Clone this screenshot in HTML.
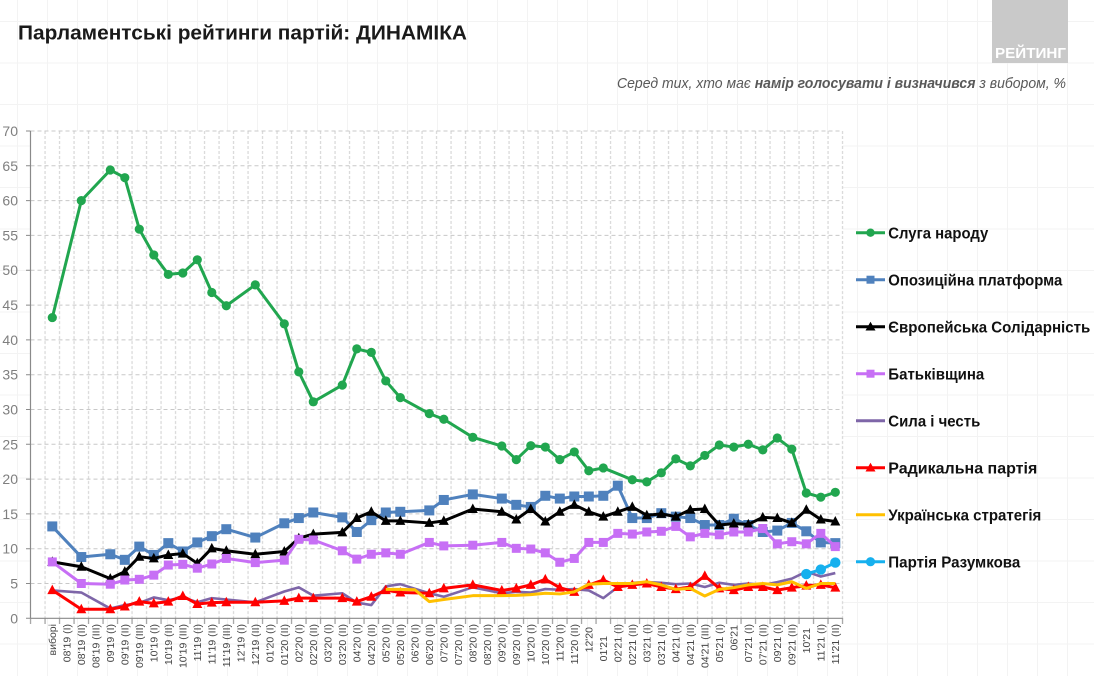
<!DOCTYPE html>
<html><head><meta charset="utf-8">
<style>
html,body{margin:0;padding:0;background:#fff;}
svg{display:block;font-family:"Liberation Sans",Arial,sans-serif;}
</style></head><body>
<svg id="c" width="1094" height="676" viewBox="0 0 1094 676" xmlns="http://www.w3.org/2000/svg">
<defs>
<pattern id="bg" patternUnits="userSpaceOnUse" x="17" y="21" width="30" height="41.5">
 <path d="M0 0.5H30M0.5 0V41.5" stroke="#f3f3f3" stroke-width="1" fill="none"/>
</pattern>
<pattern id="vg" patternUnits="userSpaceOnUse" x="37.8" y="131" width="14.5" height="487.3">
 <line x1="7.25" y1="0" x2="7.25" y2="487.3" stroke="#cfcfcf" stroke-width="1" stroke-dasharray="3,2"/>
</pattern>
<pattern id="xt" patternUnits="userSpaceOnUse" x="23.3" y="618" width="14.5" height="6">
 <line x1="7.25" y1="0" x2="7.25" y2="6" stroke="#8a8a8a" stroke-width="1"/>
</pattern>
</defs>

<rect x="0" y="0" width="1094" height="676" fill="#fff"/>
<rect x="0" y="0" width="1094" height="676" fill="url(#bg)"/>

<!-- logo -->
<rect x="992" y="0" width="76" height="63" fill="#c9c9c9"/>
<text x="995" y="58" font-size="15" font-weight="bold" fill="#fff" textLength="71" lengthAdjust="spacingAndGlyphs">РЕЙТИНГ</text>

<!-- title -->
<text x="18" y="39.3" font-size="20" font-weight="bold" fill="#1a1a1a" textLength="449" lengthAdjust="spacingAndGlyphs">Парламентські рейтинги партій: ДИНАМІКА</text>

<!-- subtitle -->
<text x="617" y="88" font-size="14.5" font-style="italic" fill="#595959" textLength="449" lengthAdjust="spacingAndGlyphs">Серед тих, хто має <tspan font-weight="bold">намір голосувати і визначився</tspan> з вибором, %</text>

<!-- plot area background white -->
<rect x="30.5" y="131" width="812" height="487.3" fill="#fff"/>

<!-- vertical dashed gridlines -->
<rect x="38" y="131" width="811" height="487.3" fill="url(#vg)"/>

<!-- horizontal dashed gridlines -->
<path d="M30.5 583.5H842.5M30.5 548.7H842.5M30.5 513.9H842.5M30.5 479.1H842.5M30.5 444.3H842.5M30.5 409.5H842.5M30.5 374.7H842.5M30.5 339.9H842.5M30.5 305.1H842.5M30.5 270.2H842.5M30.5 235.4H842.5M30.5 200.6H842.5M30.5 165.8H842.5M30.5 131H842.5" stroke="#c8c8c8" stroke-width="1" stroke-dasharray="4,3" fill="none"/>

<!-- axes -->
<line x1="30.5" y1="131" x2="30.5" y2="618.3" stroke="#8a8a8a" stroke-width="1.2"/>
<line x1="30.5" y1="618.3" x2="842.6" y2="618.3" stroke="#8a8a8a" stroke-width="1.2"/>
<path d="M26 618.3H30.5M26 583.5H30.5M26 548.7H30.5M26 513.9H30.5M26 479.1H30.5M26 444.3H30.5M26 409.5H30.5M26 374.7H30.5M26 339.9H30.5M26 305.1H30.5M26 270.2H30.5M26 235.4H30.5M26 200.6H30.5M26 165.8H30.5M26 131H30.5" stroke="#8a8a8a" stroke-width="1" fill="none"/>
<rect x="26" y="618" width="820" height="6" fill="url(#xt)"/>

<!-- y labels -->
<g font-size="14" fill="#7f7f7f" text-anchor="end">
<text x="18" y="623.3">0</text>
<text x="18" y="588.5">5</text>
<text x="18" y="553.7">10</text>
<text x="18" y="518.9">15</text>
<text x="18" y="484.1">20</text>
<text x="18" y="449.3">25</text>
<text x="18" y="414.5">30</text>
<text x="18" y="379.7">35</text>
<text x="18" y="344.9">40</text>
<text x="18" y="310.1">45</text>
<text x="18" y="275.2">50</text>
<text x="18" y="240.4">55</text>
<text x="18" y="205.6">60</text>
<text x="18" y="170.8">65</text>
<text x="18" y="136">70</text>
</g>

<!-- x labels -->
<g font-size="10.5" fill="#444" text-anchor="end">
<text transform="translate(56.1,624) rotate(-90)">виборі</text>
<text transform="translate(70.6,624) rotate(-90)">08'19 (I)</text>
<text transform="translate(85.1,624) rotate(-90)">08'19 (II)</text>
<text transform="translate(99.6,624) rotate(-90)">08'19 (III)</text>
<text transform="translate(114.1,624) rotate(-90)">09'19 (I)</text>
<text transform="translate(128.6,624) rotate(-90)">09'19 (II)</text>
<text transform="translate(143.1,624) rotate(-90)">09'19 (III)</text>
<text transform="translate(157.6,624) rotate(-90)">10'19 (I)</text>
<text transform="translate(172.1,624) rotate(-90)">10'19 (II)</text>
<text transform="translate(186.6,624) rotate(-90)">10'19 (III)</text>
<text transform="translate(201.1,624) rotate(-90)">11'19 (I)</text>
<text transform="translate(215.6,624) rotate(-90)">11'19 (II)</text>
<text transform="translate(230.1,624) rotate(-90)">11'19 (III)</text>
<text transform="translate(244.6,624) rotate(-90)">12'19 (I)</text>
<text transform="translate(259.1,624) rotate(-90)">12'19 (II)</text>
<text transform="translate(273.6,624) rotate(-90)">01'20 (I)</text>
<text transform="translate(288.1,624) rotate(-90)">01'20 (II)</text>
<text transform="translate(302.6,624) rotate(-90)">02'20 (I)</text>
<text transform="translate(317.1,624) rotate(-90)">02'20 (II)</text>
<text transform="translate(331.6,624) rotate(-90)">03'20 (I)</text>
<text transform="translate(346.1,624) rotate(-90)">03'20 (II)</text>
<text transform="translate(360.6,624) rotate(-90)">04'20 (I)</text>
<text transform="translate(375.1,624) rotate(-90)">04'20 (II)</text>
<text transform="translate(389.6,624) rotate(-90)">05'20 (I)</text>
<text transform="translate(404.1,624) rotate(-90)">05'20 (II)</text>
<text transform="translate(418.6,624) rotate(-90)">06'20 (I)</text>
<text transform="translate(433.1,624) rotate(-90)">06'20 (II)</text>
<text transform="translate(447.6,624) rotate(-90)">07'20 (I)</text>
<text transform="translate(462.1,624) rotate(-90)">07'20 (II)</text>
<text transform="translate(476.6,624) rotate(-90)">08'20 (I)</text>
<text transform="translate(491.1,624) rotate(-90)">08'20 (II)</text>
<text transform="translate(505.6,624) rotate(-90)">09'20 (I)</text>
<text transform="translate(520.1,624) rotate(-90)">09'20 (II)</text>
<text transform="translate(534.6,624) rotate(-90)">10'20 (I)</text>
<text transform="translate(549.1,624) rotate(-90)">10'20 (II)</text>
<text transform="translate(563.6,624) rotate(-90)">11'20 (I)</text>
<text transform="translate(578.1,624) rotate(-90)">11'20 (II)</text>
<text transform="translate(592.6,627) rotate(-90)">12'20</text>
<text transform="translate(607.1,636) rotate(-90)">01'21</text>
<text transform="translate(621.6,624) rotate(-90)">02'21 (I)</text>
<text transform="translate(636.1,624) rotate(-90)">02'21 (II)</text>
<text transform="translate(650.6,624) rotate(-90)">03'21 (I)</text>
<text transform="translate(665.1,624) rotate(-90)">03'21 (II)</text>
<text transform="translate(679.6,624) rotate(-90)">04'21 (I)</text>
<text transform="translate(694.1,624) rotate(-90)">04'21 (II)</text>
<text transform="translate(708.6,624) rotate(-90)">04'21 (III)</text>
<text transform="translate(723.1,624) rotate(-90)">05'21 (I)</text>
<text transform="translate(737.6,625) rotate(-90)">06'21</text>
<text transform="translate(752.1,624) rotate(-90)">07'21 (I)</text>
<text transform="translate(766.6,624) rotate(-90)">07'21 (II)</text>
<text transform="translate(781.1,624) rotate(-90)">09'21 (I)</text>
<text transform="translate(795.6,624) rotate(-90)">09'21 (II)</text>
<text transform="translate(810.1,628) rotate(-90)">10'21</text>
<text transform="translate(824.6,624) rotate(-90)">11'21 (I)</text>
<text transform="translate(839.1,624) rotate(-90)">11'21 (II)</text>
</g>

<!-- series -->
<g transform="matrix(14.5 0 0 -6.961 52.3 618.3)"><polyline id="lg" fill="none" stroke="#21a64f" stroke-width="3" vector-effect="non-scaling-stroke" stroke-linejoin="round" points="0,43.2 2,60 4,64.4 5,63.3 6,55.9 7,52.2 8,49.4 9,49.6 10,51.5 11,46.8 12,44.9 14,47.9 16,42.3 17,35.4 18,31.1 20,33.5 21,38.7 22,38.2 23,34.1 24,31.7 26,29.4 27,28.6 29,26 31,24.75 32,22.8 33,24.8 34,24.6 35,22.8 36,23.9 37,21.2 38,21.6 40,19.9 41,19.6 42,20.9 43,22.9 44,21.9 45,23.4 46,24.9 47,24.6 48,25 49,24.2 50,25.9 51,24.3 52,18 53,17.4 54,18.1"/></g>
<g id="mg"></g>

<g transform="matrix(14.5 0 0 -6.961 52.3 618.3)"><polyline id="lb" fill="none" stroke="#4f81bd" stroke-width="3" vector-effect="non-scaling-stroke" stroke-linejoin="round" points="0,13.2 2,8.8 4,9.2 5,8.4 6,10.3 7,9.1 8,10.8 9,9.6 10,10.9 11,11.8 12,12.8 14,11.6 16,13.65 17,14.4 18,15.2 20,14.5 21,12.4 22,14.1 23,15.2 24,15.3 26,15.5 27,17 29,17.8 31,17.2 32,16.3 33,16 34,17.6 35,17.2 36,17.5 37,17.5 38,17.6 39,19.05 40,14.4 41,14.4 42,15.1 43,14.6 44,14.4 45,13.4 46,13.4 47,14.3 48,13.4 49,12.4 50,12.6 51,13.7 52,12.5 53,10.9 54,10.8"/></g>
<g id="mb"></g>

<g transform="matrix(14.5 0 0 -6.961 52.3 618.3)"><polyline id="lk" fill="none" stroke="#000" stroke-width="3" vector-effect="non-scaling-stroke" stroke-linejoin="round" points="0,8.1 2,7.4 4,5.7 5,6.7 6,8.85 7,8.6 8,9.1 9,9.3 10,7.9 11,10.05 12,9.7 14,9.2 16,9.6 17,11.5 18,12.1 20,12.35 21,14.4 22,15.3 23,14 24,14 26,13.7 27,14 29,15.7 31,15.3 32,14.2 33,15.7 34,13.9 35,15.3 36,16.3 37,15.3 38,14.6 39,15.3 40,16 41,14.8 42,15 43,14.6 44,15.6 45,15.7 46,13.4 47,13.6 48,13.5 49,14.5 50,14.4 51,13.7 52,15.6 53,14.2 54,13.9"/></g>
<g id="mk"></g>

<g transform="matrix(14.5 0 0 -6.961 52.3 618.3)"><polyline id="lp" fill="none" stroke="#c76ff5" stroke-width="3" vector-effect="non-scaling-stroke" stroke-linejoin="round" points="0,8.1 2,5 4,4.9 5,5.5 6,5.6 7,6.2 8,7.65 9,7.75 10,7.2 11,7.8 12,8.6 14,8 16,8.35 17,11.35 18,11.25 20,9.7 21,8.5 22,9.2 23,9.4 24,9.2 26,10.9 27,10.4 29,10.5 31,10.9 32,10.05 33,9.95 34,9.4 35,8.05 36,8.6 37,10.9 38,10.9 39,12.2 40,12.1 41,12.4 42,12.5 43,13.2 44,11.7 45,12.2 46,12 47,12.4 48,12.4 49,12.9 50,10.7 51,11 52,10.7 53,12.2 54,10.3"/></g>
<g id="mp"></g>

<g transform="matrix(14.5 0 0 -6.961 52.3 618.3)"><polyline id="ls" fill="none" stroke="#7e66a8" stroke-width="2.6" vector-effect="non-scaling-stroke" stroke-linejoin="round" points="0,4 2,3.7 4,1.4 5,1.9 6,2.2 7,3 8,2.6 9,3 10,2.3 11,2.9 12,2.7 14,2.3 16,3.85 17,4.45 18,3.25 20,3.6 21,2.25 22,1.9 23,4.6 24,4.9 26,3.6 27,3.1 29,4.45 31,3.6 32,3.8 33,3.7 34,4.2 35,4.1 36,4.2 37,4 38,2.9 39,4.5 40,5.1 41,5.2 42,5.1 43,4.9 44,5 45,4.5 46,5.1 47,4.8 48,5 49,4.8 50,5.2 51,5.7 52,6.7 53,6 54,6.5"/></g>

<g transform="matrix(14.5 0 0 -6.961 52.3 618.3)"><polyline id="lr" fill="none" stroke="#ff0000" stroke-width="3" vector-effect="non-scaling-stroke" stroke-linejoin="round" points="0,4.05 2,1.3 4,1.3 5,1.7 6,2.4 7,2.15 8,2.4 9,3.2 10,2.05 11,2.25 12,2.3 14,2.3 16,2.5 17,2.9 18,2.9 20,2.9 21,2.4 22,3.1 23,4.05 24,3.7 26,3.6 27,4.3 29,4.8 31,4 32,4.3 33,4.8 34,5.6 35,4.4 36,3.8 37,4.8 38,5.5 39,4.5 40,4.8 41,5 42,4.5 43,4.2 44,4.5 45,6.1 46,4.3 47,4.05 48,4.5 49,4.5 50,4.05 51,4.4 52,4.7 53,4.8 54,4.4"/></g>
<g id="mr"></g>

<g transform="matrix(14.5 0 0 -6.961 52.3 618.3)"><polyline id="ly" fill="none" stroke="#ffc000" stroke-width="3" vector-effect="non-scaling-stroke" stroke-linejoin="round" points="23,4.15 24,4.15 25,4.1 26,2.4 27,2.7 29,3.25 31,3.25 32,3.3 33,3.4 34,3.6 35,3.5 36,3.8 37,4.9 38,5 39,5 40,5 41,5.25 42,4.8 43,4.15 44,4.3 45,3.2 46,4.15 47,4.4 48,4.8 49,5 50,4.8 51,5.25 52,4.3 53,5 54,5"/></g>

<g transform="matrix(14.5 0 0 -6.961 52.3 618.3)"><polyline id="lc" fill="none" stroke="#16b0ee" stroke-width="3" vector-effect="non-scaling-stroke" stroke-linejoin="round" points="52,6.35 53,7 54,8"/></g>
<g id="mc"></g>

<!-- legend -->
<g stroke-width="3">
<line x1="856" y1="232.7" x2="885" y2="232.7" stroke="#21a64f"/>
<circle cx="870.5" cy="232.7" r="4.2" fill="#21a64f" stroke="none"/>
<line x1="856" y1="279.7" x2="885" y2="279.7" stroke="#4f81bd"/>
<rect x="866.5" y="275.7" width="8" height="8" fill="#4f81bd" stroke="none"/>
<line x1="856" y1="326.7" x2="885" y2="326.7" stroke="#000"/>
<polygon points="870.5,321.7 865.5,330.5 875.5,330.5" fill="#000" stroke="none"/>
<line x1="856" y1="373.7" x2="885" y2="373.7" stroke="#c76ff5"/>
<rect x="866.5" y="369.7" width="8" height="8" fill="#c76ff5" stroke="none"/>
<line x1="856" y1="420.7" x2="885" y2="420.7" stroke="#7e66a8"/>
<line x1="856" y1="467.7" x2="885" y2="467.7" stroke="#ff0000"/>
<polygon points="870.5,462.7 865.5,471.5 875.5,471.5" fill="#ff0000" stroke="none"/>
<line x1="856" y1="514.7" x2="885" y2="514.7" stroke="#ffc000"/>
<line x1="856" y1="561.7" x2="885" y2="561.7" stroke="#16b0ee"/>
<circle cx="870.5" cy="561.7" r="4.6" fill="#16b0ee" stroke="none"/>
</g>
<g font-size="16" font-weight="bold" fill="#111">
<text x="888.3" y="238.3" textLength="100" lengthAdjust="spacingAndGlyphs">Слуга народу</text>
<text x="888.3" y="285.3" textLength="174" lengthAdjust="spacingAndGlyphs">Опозиційна платформа</text>
<text x="888.3" y="332.3" textLength="202" lengthAdjust="spacingAndGlyphs">Європейська Солідарність</text>
<text x="888.3" y="379.3" textLength="96" lengthAdjust="spacingAndGlyphs">Батьківщина</text>
<text x="888.3" y="426.3" textLength="92" lengthAdjust="spacingAndGlyphs">Сила і честь</text>
<text x="888.3" y="473.3" textLength="149" lengthAdjust="spacingAndGlyphs">Радикальна партія</text>
<text x="888.3" y="520.3" textLength="153" lengthAdjust="spacingAndGlyphs">Українська стратегія</text>
<text x="888.3" y="567.3" textLength="132" lengthAdjust="spacingAndGlyphs">Партія Разумкова</text>
</g>
</svg>
<script>
(function(){
var NS="http://www.w3.org/2000/svg";
var S=[["g","circle","#21a64f",4.6],["b","square","#4f81bd",10],["k","tri","#000000",10],["p","square","#c76ff5",9],["r","tri","#ff0000",10],["c","circle","#16b0ee",5.2]];
S.forEach(function(s){
 var pl=document.getElementById("l"+s[0]);
 var g=document.getElementById("m"+s[0]);
 if(!pl||!g)return;
 var pts=pl.getAttribute("points").trim().split(/\s+/);
 pts.forEach(function(p){
  var a=p.split(","),X=52.3+14.5*parseFloat(a[0]),Y=618.3-6.961*parseFloat(a[1]),e,w=s[3];
  if(s[1]=="circle"){e=document.createElementNS(NS,"circle");e.setAttribute("cx",X);e.setAttribute("cy",Y);e.setAttribute("r",w);}
  else if(s[1]=="square"){e=document.createElementNS(NS,"rect");e.setAttribute("x",X-w/2);e.setAttribute("y",Y-w/2);e.setAttribute("width",w);e.setAttribute("height",w);}
  else{e=document.createElementNS(NS,"polygon");e.setAttribute("points",X+","+(Y-w*0.55)+" "+(X-w/2)+","+(Y+w*0.4)+" "+(X+w/2)+","+(Y+w*0.4));}
  e.setAttribute("fill",s[2]);g.appendChild(e);
 });
});
})();
</script>
</body></html>
